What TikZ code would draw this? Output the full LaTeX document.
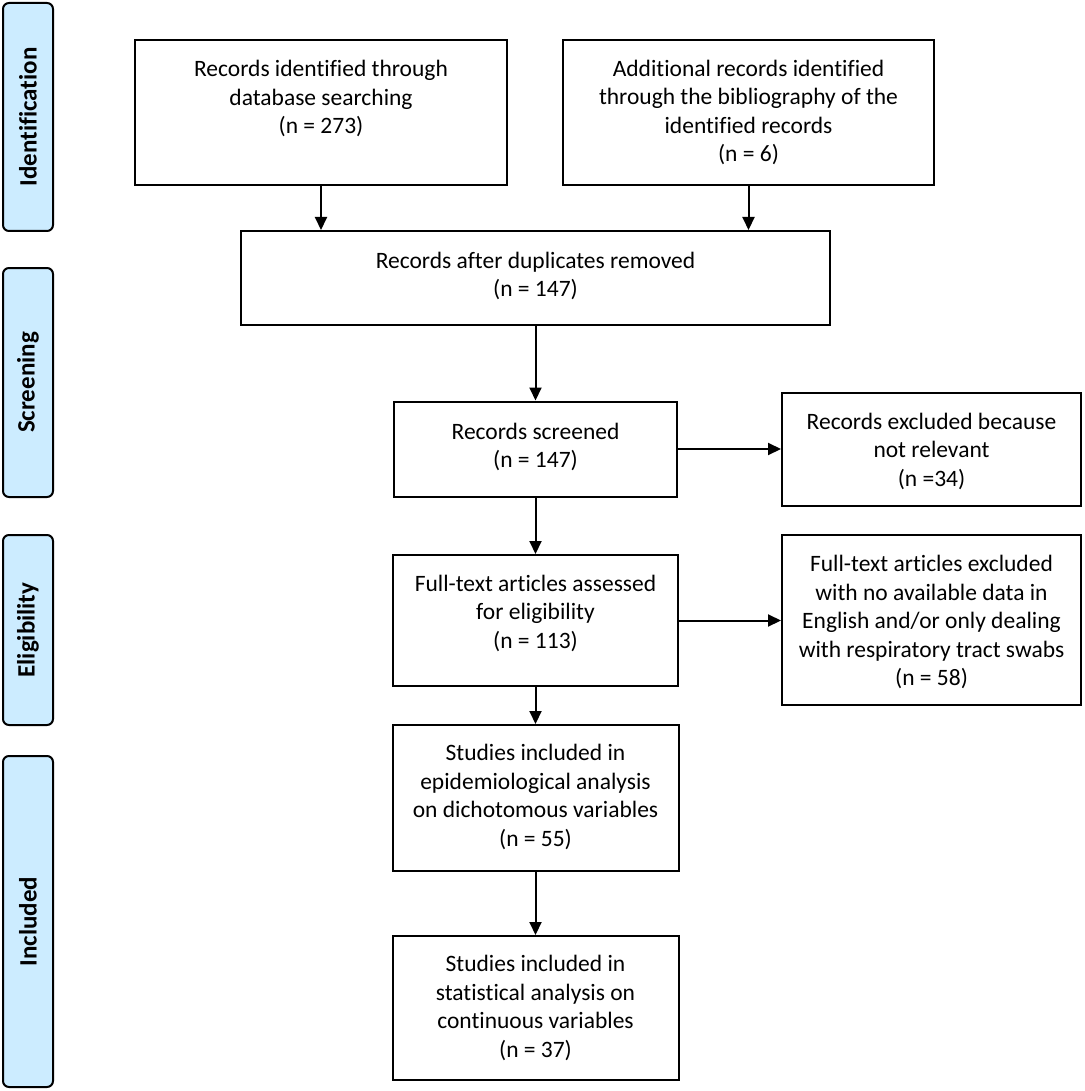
\documentclass[tikz,border=0pt]{standalone}
\usepackage{fontspec}
\setmainfont{Carlito}[Ligatures=NoCommon]
\usetikzlibrary{arrows.meta}
\definecolor{barblue}{RGB}{204,236,255}
\begin{document}
\begin{tikzpicture}[x=1pt,y=-1pt,
  box/.style={draw=black, line width=2pt, rectangle, inner sep=0pt},
  txt/.style={align=center, font=\fontsize{23.5}{28.5}\selectfont, inner sep=0pt},
  bar/.style={draw=black, line width=2pt, fill=barblue, rounded corners=6pt, rectangle, inner sep=0pt, minimum width=50pt},
  bartxt/.style={rotate=90, font=\fontsize{25}{28}\selectfont\bfseries, inner sep=0pt},
  arr/.style={line width=2pt, -{Triangle[length=13pt,width=12pt]}}
]
\useasboundingbox (0,0) rectangle (1084,1091);

% side bars
\node[bar, minimum height=228pt] (p1) at (28,117) {};
\node[bartxt] (p1t) at (28,117) {Identification};
\node[bar, minimum height=229pt] (p2) at (28,382.5) {};
\node[bartxt] (p2t) at (28,382.5) {Screening};
\node[bar, minimum height=190pt] (p3) at (28,630) {};
\node[bartxt] (p3t) at (28,630) {Eligibility};
\node[bar, minimum height=331pt] (p4) at (28,921.5) {};
\node[bartxt] (p4t) at (28,921.5) {Included};

% boxes
\node[box, minimum width=372pt, minimum height=145pt] (b1) at (321,112.5) {};
\node[box, minimum width=371pt, minimum height=145pt] (b2) at (748.5,112.5) {};
\node[box, minimum width=589pt, minimum height=94pt] (b3) at (535.5,278) {};
\node[box, minimum width=283pt, minimum height=95pt] (b4) at (535.5,449) {};
\node[box, minimum width=299pt, minimum height=113pt] (b5) at (931.5,449.5) {};
\node[box, minimum width=285pt, minimum height=131pt] (b6) at (535.5,620.5) {};
\node[box, minimum width=299pt, minimum height=170pt] (b7) at (931.5,620) {};
\node[box, minimum width=286pt, minimum height=146pt] (b8) at (535.5,798) {};
\node[box, minimum width=286pt, minimum height=144pt] (b9) at (535.5,1008) {};

% texts
\node[txt] (t1) at (321,98.5) {Records identified through\\database searching\\(n = 273)};
\node[txt] (t2) at (748.5,112.5) {Additional records identified\\through the bibliography of the\\identified records\\(n = 6)};
\node[txt] (t3) at (535.5,276) {Records after duplicates removed\\(n = 147)};
\node[txt] (t4) at (535.5,447) {Records screened\\(n = 147)};
\node[txt] (t5) at (931.5,451) {Records excluded because\\not relevant\\(n =34)};
\node[txt] (t6) at (535.5,613) {Full-text articles assessed\\for eligibility\\(n = 113)};
\node[txt] (t7) at (931.5,622) {Full-text articles excluded\\with no available data in\\English and/or only dealing\\with respiratory tract swabs\\(n = 58)};
\node[txt] (t8) at (535.5,797) {Studies included in\\epidemiological analysis\\on dichotomous variables\\(n = 55)};
\node[txt] (t9) at (535.5,1008) {Studies included in\\statistical analysis on\\continuous variables\\(n = 37)};

% connectors
\draw[arr] (b1.south) -- (b1.south |- b3.north);
\draw[arr] (b2.south) -- (b2.south |- b3.north);
\draw[arr] (b3.south) -- (b4.north);
\draw[arr] (b4.east) -- (b4.east -| b5.west);
\draw[arr] (b4.south) -- (b6.north);
\draw[arr] (b6.east) -- (b6.east -| b7.west);
\draw[arr] (b6.south) -- (b8.north);
\draw[arr] (b8.south) -- (b9.north);
\end{tikzpicture}
\end{document}
